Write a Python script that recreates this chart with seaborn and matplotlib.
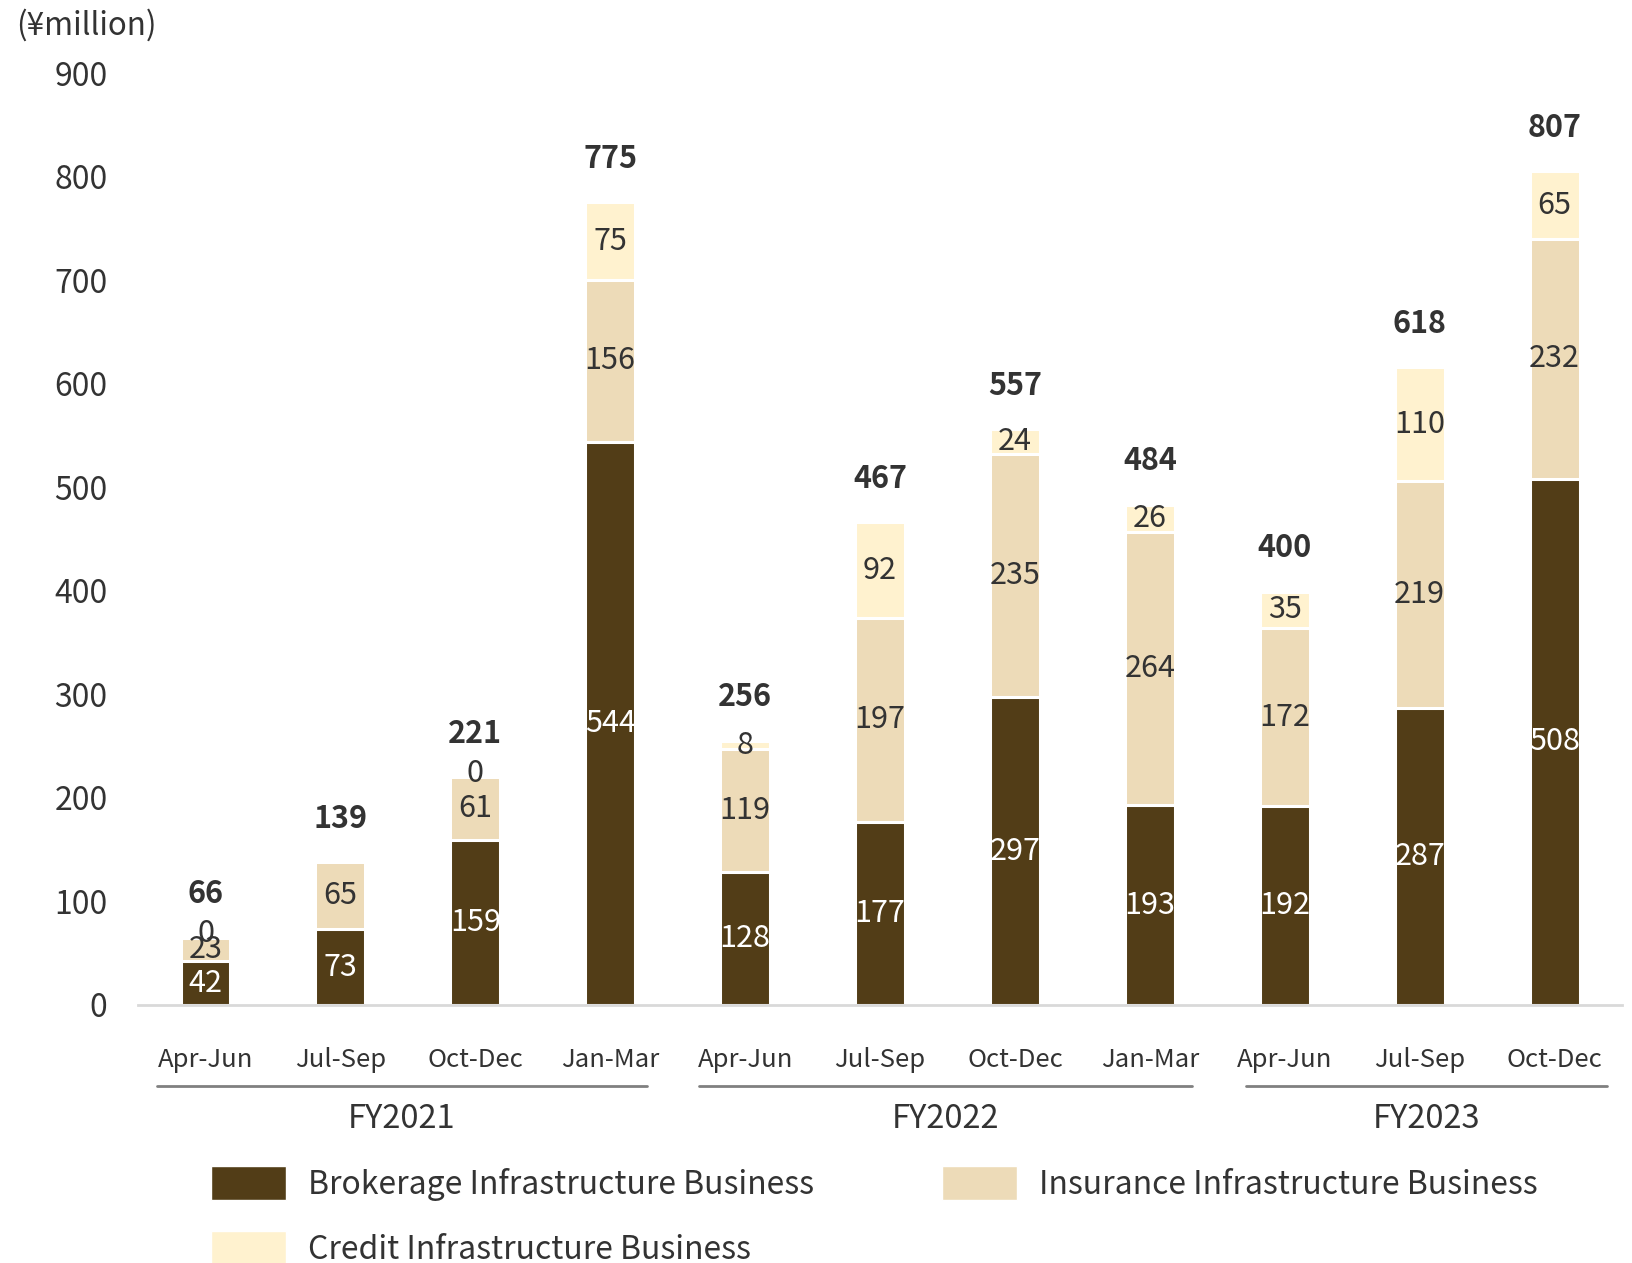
import numpy as np
import pandas as pd
import matplotlib
matplotlib.use("Agg")
import matplotlib.pyplot as plt
import matplotlib.transforms as mtransforms
from matplotlib.patches import Patch
import seaborn as sns

# Quarterly segment data (¥ million)
quarters = ["Apr-Jun", "Jul-Sep", "Oct-Dec", "Jan-Mar",
            "Apr-Jun", "Jul-Sep", "Oct-Dec", "Jan-Mar",
            "Apr-Jun", "Jul-Sep", "Oct-Dec"]
fiscal_years = ["FY2021"] * 4 + ["FY2022"] * 4 + ["FY2023"] * 3
brokerage = [42, 73, 159, 544, 128, 177, 297, 193, 192, 287, 508]
insurance = [23, 65, 61, 156, 119, 197, 235, 264, 172, 219, 232]
credit = [0, np.nan, 0, 75, 8, 92, 24, 26, 35, 110, 65]
totals = [66, 139, 221, 775, 256, 467, 557, 484, 400, 618, 807]

series_names = ["Brokerage Infrastructure Business",
                "Insurance Infrastructure Business",
                "Credit Infrastructure Business"]
c_brok = "#523D17"
c_ins = "#EDDBB8"
c_cred = "#FFF2CF"
txt_dark = "#333333"

sns.set_theme(style="white")
plt.rcParams["font.family"] = ["Noto Sans CJK JP", "DejaVu Sans"]

keys = [f"{fy} {q}" for fy, q in zip(fiscal_years, quarters)]
df = pd.DataFrame({
    "key": keys,
    "brokerage": brokerage,
    "insurance": insurance,
    "credit": np.nan_to_num(np.array(credit, dtype=float)),
})
df["lvl1"] = df["brokerage"]
df["lvl2"] = df["lvl1"] + df["insurance"]
df["lvl3"] = df["lvl2"] + df["credit"]

fig = plt.figure(figsize=(16.32, 12.63), dpi=100)
ax = fig.add_axes([0.0846, 0.2043, 0.9093, 0.7379])

bw = 0.37
for col, color in [("lvl3", c_cred), ("lvl2", c_ins), ("lvl1", c_brok)]:
    sns.barplot(data=df, x="key", y=col, order=keys, color=color,
                width=bw, edgecolor="white", linewidth=2.2,
                saturation=1, ax=ax, errorbar=None)

ax.set_xlim(-0.5, 10.5)
ax.set_ylim(0, 900)
ax.set_yticks(np.arange(0, 901, 100))
ax.tick_params(axis="y", length=0, pad=22, labelsize=23, labelcolor=txt_dark)
ax.set_xticks(range(len(keys)))
ax.set_xticklabels(quarters)
ax.tick_params(axis="x", length=0, pad=30, labelsize=18.5, labelcolor=txt_dark)
ax.set_xlabel("")
ax.set_ylabel("")
for s in ["top", "right", "left"]:
    ax.spines[s].set_visible(False)
ax.spines["bottom"].set_color("#D9D9D9")
ax.spines["bottom"].set_linewidth(2)

# Segment value labels
for i in range(len(keys)):
    b, ins, cr = brokerage[i], insurance[i], credit[i]
    ax.text(i, b / 2, f"{b}", ha="center", va="center", fontsize=22,
            color="white")
    ax.text(i, b + ins / 2, f"{ins}", ha="center", va="center",
            fontsize=22, color=txt_dark)
    if not np.isnan(cr):
        ax.text(i, b + ins + cr / 2 + (4 if cr == 0 else 0), f"{int(cr)}",
                ha="center", va="center", fontsize=22, color=txt_dark)
    top = df["lvl3"].iloc[i]
    ax.text(i, top + 42, f"{totals[i]}", ha="center", va="center",
            fontsize=22, fontweight="bold", color=txt_dark, clip_on=False)

# Fiscal-year group brackets under the quarter labels
trans = mtransforms.blended_transform_factory(ax.transData, fig.transFigure)
groups = [("FY2021", -0.36, 3.27), ("FY2022", 3.66, 7.31),
          ("FY2023", 7.71, 10.39)]
line_y = 1 - 1086 / 1263
label_y = 1 - 1119 / 1263
for name, x0, x1 in groups:
    ax.plot([x0, x1], [line_y, line_y], transform=trans, color="#808080",
            linewidth=2, clip_on=False)
    ax.text((x0 + x1) / 2, label_y, name, transform=trans, ha="center",
            va="center", fontsize=23.5, color=txt_dark)

fig.text(16 / 1632, 1 - 25 / 1263, "(¥million)", ha="left", va="center",
         fontsize=22.5, color=txt_dark)

handles = [Patch(facecolor=c_brok, label=series_names[0]),
           Patch(facecolor=c_cred, label=series_names[2]),
           Patch(facecolor=c_ins, label=series_names[1])]
leg = fig.legend(handles=handles, ncol=2, loc="upper left",
                 bbox_to_anchor=(211 / 1632, 1 - 1166 / 1263),
                 frameon=False, fontsize=23, handlelength=2.35,
                 handleheight=1.25, handletextpad=0.69, columnspacing=4.0,
                 labelspacing=0.95, borderaxespad=0, borderpad=0)
for t in leg.get_texts():
    t.set_color(txt_dark)

fig.savefig("out.png", dpi=100, facecolor="white")
